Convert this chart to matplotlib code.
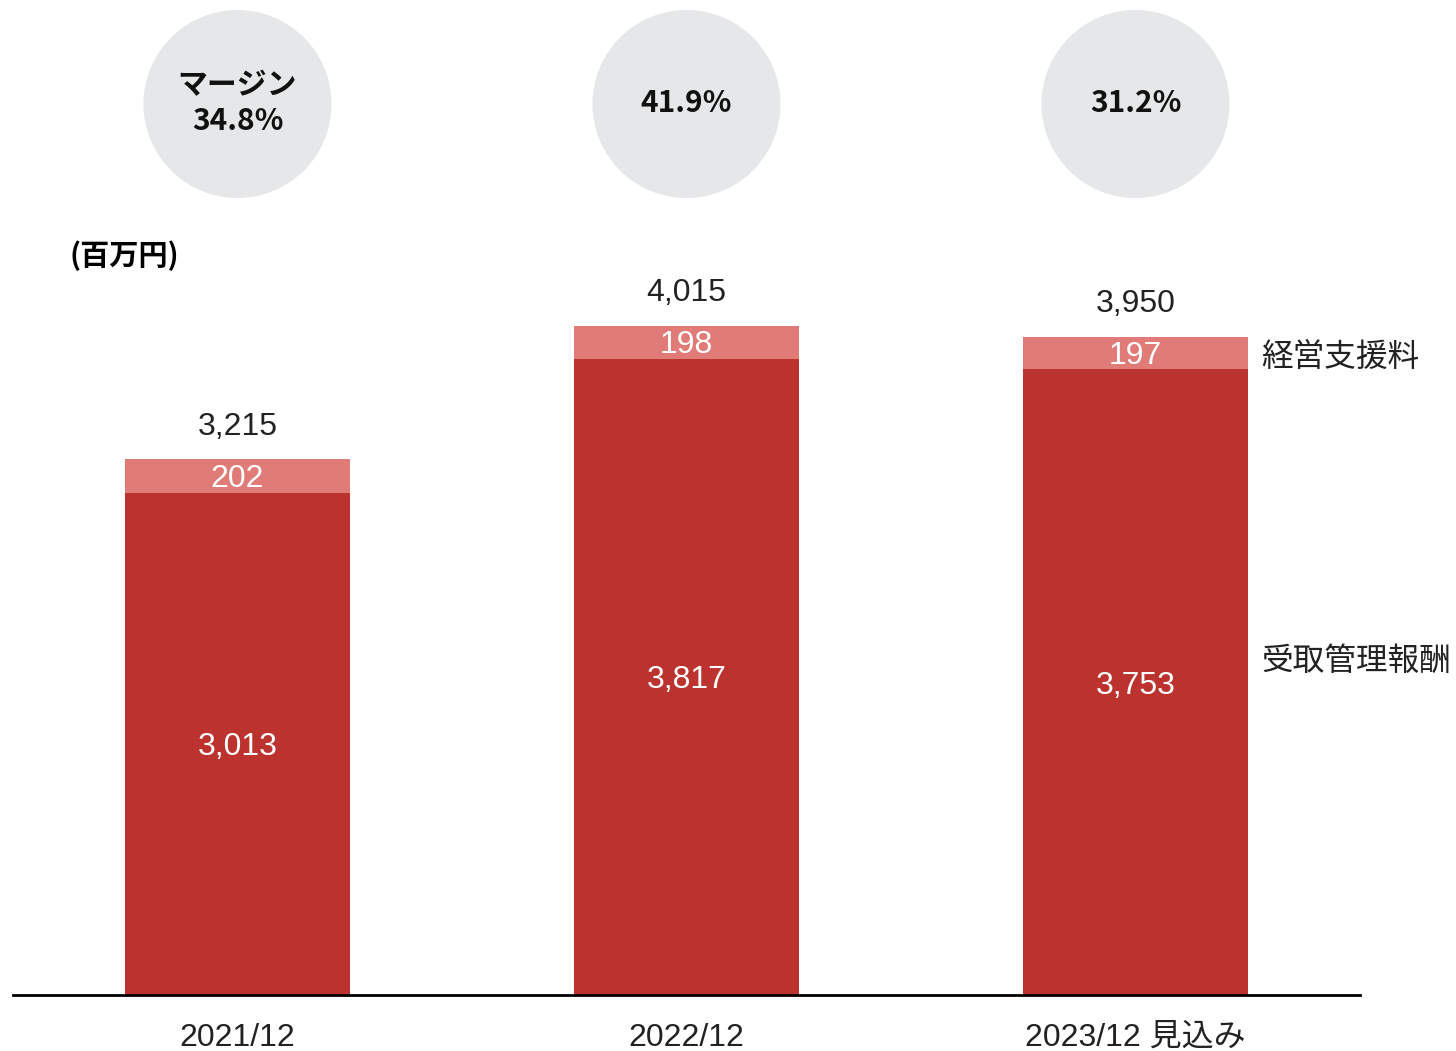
import matplotlib.pyplot as plt
from matplotlib.patches import Ellipse

plt.rcParams['font.family'] = ['Liberation Sans', 'Noto Sans CJK JP', 'DejaVu Sans']

periods = ['2021/12', '2022/12', '2023/12 見込み']
fees = [3013, 3817, 3753]        # 受取管理報酬
support = [202, 198, 197]        # 経営支援料
totals = [3215, 4015, 3950]
margins = ['マージン\n34.8%', '41.9%', '31.2%']

dark = '#bb322e'
light = '#e07b78'

fig = plt.figure(figsize=(14.56, 10.51), dpi=100)
ax = fig.add_axes([13 / 1456, 56 / 1051, 1347 / 1456, 995 / 1051])

x = list(range(len(periods)))
ax.bar(x, fees, width=0.5, color=dark)
ax.bar(x, support, width=0.5, bottom=fees, color=light)

ax.set_xlim(-0.5, 2.5)
ax.set_ylim(0, 5969)

for i in x:
    ax.text(i, fees[i] / 2 - 20, f'{fees[i]:,}', ha='center', va='center',
            color='white', fontsize=23)
    ax.text(i, fees[i] + support[i] / 2 - 18, f'{support[i]:,}', ha='center',
            va='center', color='white', fontsize=23)
    ax.text(i, totals[i] + 195, f'{totals[i]:,}', ha='center', va='center',
            color='#222222', fontsize=23)
    # margin circles
    ax.add_patch(Ellipse((i, 5345), 0.419, 1128, color='#e6e7e9',
                         clip_on=False, lw=0))
    ax.text(i, 5350, margins[i], ha='center', va='center', fontsize=21.5,
            fontweight='bold', family=['Noto Sans CJK JP'], linespacing=1.25,
            color='#111111')

ax.text(2.28, fees[2] + support[2] / 2 - 25, '経営支援料', ha='left', va='center',
        fontsize=22.8, color='#222222', family=['Noto Sans CJK JP'], clip_on=False)
ax.text(2.28, fees[2] * 0.54 - 20, '受取管理報酬', ha='left', va='center',
        fontsize=22.8, color='#222222', family=['Noto Sans CJK JP'], clip_on=False)

fig.text(70 / 1456, 1 - 256 / 1051, '(百万円)', ha='left', va='center',
         fontsize=21, fontweight='bold', family=['Noto Sans CJK JP'])

ax.set_xticks(x)
ax.set_xticklabels(periods, fontsize=23, color='#222222')
ax.tick_params(axis='x', length=0, pad=20)
ax.set_yticks([])
for s in ['top', 'right', 'left']:
    ax.spines[s].set_visible(False)
ax.spines['bottom'].set_linewidth(2)

fig.savefig('out.png', dpi=100)
